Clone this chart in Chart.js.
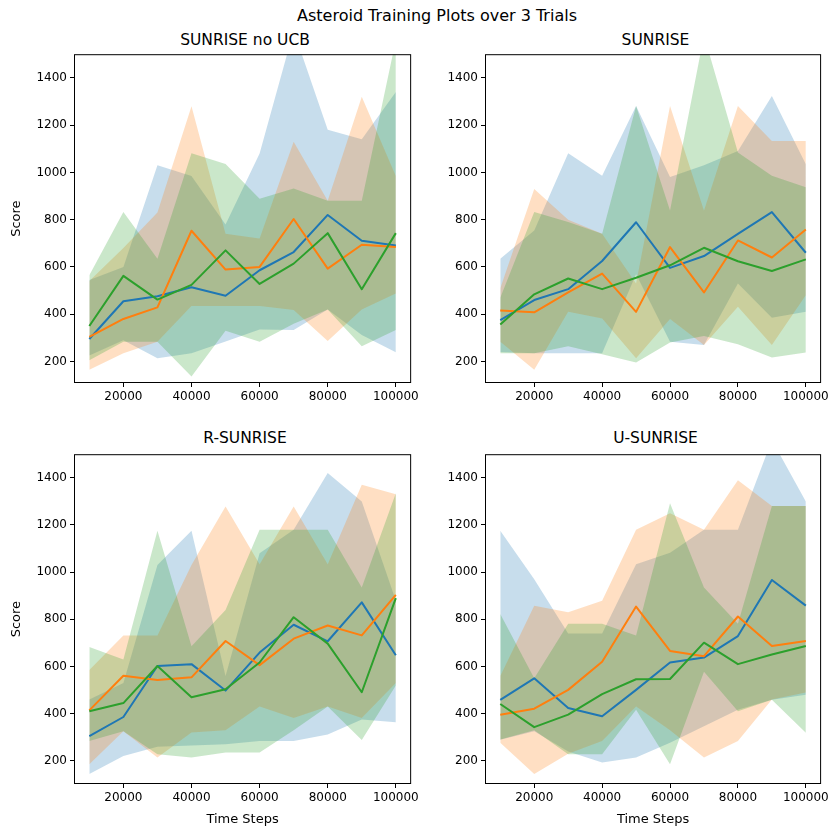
<!DOCTYPE html>
<html>
<head>
<meta charset="utf-8">
<script src="https://cdn.jsdelivr.net/npm/chart.js@4.4.1/dist/chart.umd.min.js"></script>
<style>
  body { margin: 0; background: #fff; width: 835px; height: 828px; overflow: hidden; position: relative; font-family: "DejaVu Sans", sans-serif; }
  canvas { position: absolute; }
  .title { position: absolute; text-align: center; color: #000; white-space: nowrap; height: 20px; line-height: 20px; font-size: 15.5px; }
</style>
</head>
<body>
<div class="title" style="left:37px; width:800px; top:6px; font-size:16px;">Asteroid Training Plots over 3 Trials</div>
<div class="title" style="left:74px; width:342px; top:30px;">SUNRISE no UCB</div>
<div class="title" style="left:485px; width:341px; top:30px;">SUNRISE</div>
<div class="title" style="left:74px; width:342px; top:428px;">R-SUNRISE</div>
<div class="title" style="left:485px; width:341px; top:428px;">U-SUNRISE</div>
<canvas id="c1"></canvas>
<canvas id="c2"></canvas>
<canvas id="c3"></canvas>
<canvas id="c4"></canvas>
<script>
// x values and tick labels
const steps = [10000, 20000, 30000, 40000, 50000, 60000, 70000, 80000, 90000, 100000];
const xTicks = [20000, 40000, 60000, 80000, 100000];
const yTicks = [200, 400, 600, 800, 1000, 1200, 1400];

// SUNRISE no UCB
const noUcbBlue = [295, 455, 476, 514, 478, 586, 663, 820, 711, 691];
const noUcbBlueLo = [225, 290, 214, 235, 285, 335, 333, 420, 312, 239];
const noUcbBlueHi = [545, 600, 1030, 985, 780, 1080, 1600, 1180, 1140, 1340];
const noUcbOrange = [304, 380, 429, 753, 589, 600, 803, 593, 694, 684];
const noUcbOrangeLo = [165, 235, 284, 435, 435, 435, 418, 287, 420, 488];
const noUcbOrangeHi = [540, 680, 830, 1280, 740, 720, 1130, 880, 1320, 985];
const noUcbGreen = [350, 562, 462, 524, 670, 528, 614, 743, 506, 743];
const noUcbGreenLo = [205, 284, 284, 137, 330, 284, 360, 420, 265, 333];
const noUcbGreenHi = [565, 832, 635, 1081, 1035, 888, 932, 880, 880, 1560];

// SUNRISE
const sunBlue = [375, 460, 506, 625, 789, 596, 646, 740, 832, 660];
const sunBlueLo = [240, 235, 235, 235, 569, 284, 270, 530, 385, 410];
const sunBlueHi = [635, 754, 1081, 986, 1281, 980, 1030, 1090, 1323, 1034];
const sunOrange = [416, 408, 492, 572, 410, 684, 492, 712, 640, 758];
const sunOrangeLo = [284, 165, 410, 382, 214, 380, 270, 432, 270, 480];
const sunOrangeHi = [510, 930, 800, 740, 530, 1281, 839, 1281, 1133, 1133];
const sunGreen = [357, 484, 551, 506, 554, 607, 681, 624, 583, 632];
const sunGreenLo = [235, 235, 265, 231, 196, 280, 308, 273, 217, 238];
const sunGreenHi = [470, 832, 790, 740, 1281, 839, 1580, 1084, 986, 937];

// R-SUNRISE
const rBlue = [305, 386, 602, 610, 498, 659, 777, 707, 872, 648];
const rBlueLo = [144, 221, 260, 265, 270, 284, 284, 312, 375, 364];
const rBlueHi = [460, 530, 1030, 1176, 560, 1080, 1180, 1420, 1300, 880];
const rOrange = [414, 561, 543, 554, 708, 606, 718, 774, 732, 904];
const rOrangeLo = [186, 326, 214, 320, 330, 431, 382, 431, 382, 530];
const rOrangeHi = [585, 732, 732, 1030, 1278, 1033, 1278, 1033, 1370, 1330];
const rGreen = [410, 445, 602, 470, 504, 617, 809, 697, 491, 890];
const rGreenLo = [284, 326, 228, 214, 235, 235, 330, 431, 288, 520];
const rGreenHi = [683, 630, 1176, 686, 840, 1180, 1180, 1180, 935, 1334];

// U-SUNRISE
const uBlue = [459, 550, 424, 389, 501, 617, 638, 729, 967, 858];
const uBlueLo = [290, 326, 240, 193, 214, 277, 347, 417, 459, 480];
const uBlueHi = [1176, 970, 740, 740, 1033, 1082, 1180, 1180, 1560, 1300];
const uOrange = [396, 421, 501, 620, 854, 666, 644, 812, 687, 708];
const uOrangeLo = [277, 144, 230, 284, 431, 330, 214, 284, 460, 490];
const uOrangeHi = [560, 858, 830, 879, 1180, 1250, 1180, 1390, 1280, 1280];
const uGreen = [441, 343, 396, 483, 546, 547, 701, 610, 651, 687];
const uGreenLo = [291, 330, 228, 228, 417, 186, 578, 410, 459, 319];
const uGreenHi = [823, 550, 781, 781, 732, 1292, 935, 781, 1280, 1280];

const lineColors = ["#1f77b4", "#ff7f0e", "#2ca02c"];
const fillColors = ["rgba(31,119,180,0.25)", "rgba(255,127,14,0.25)", "rgba(44,160,44,0.25)"];

Chart.defaults.font.family = "DejaVu Sans";
Chart.defaults.font.size = 12;
Chart.defaults.color = "#000";

// matplotlib-style box round the plot area
const framePlugin = {
  id: "frame",
  afterDatasetsDraw(chart) {
    const { ctx, chartArea: a } = chart;
    ctx.save();
    ctx.strokeStyle = "#000";
    ctx.lineWidth = 1;
    ctx.strokeRect(a.left + 0.5, a.top + 0.5, a.right - a.left - 1, a.bottom - a.top - 1);
    ctx.restore();
  }
};

const toPoints = arr => steps.map((x, i) => ({ x: x, y: arr[i] }));

function makePanel(id, box, yMin, showY, showX, series) {
  const canvas = document.getElementById(id);
  const padTop = 8, padRight = 6, yAxisW = 74, xAxisH = 44;
  canvas.width = box.w + yAxisW + padRight;
  canvas.height = box.h + padTop + xAxisH;
  canvas.style.left = (box.left - yAxisW) + "px";
  canvas.style.top = (box.top - padTop) + "px";

  const datasets = [];
  // shaded min/max bands first (lower layers)
  series.forEach((s, k) => {
    datasets.push({
      data: toPoints(s[2]), fill: "+1", backgroundColor: fillColors[k],
      borderWidth: 0, borderColor: "rgba(0,0,0,0)", pointRadius: 0, order: 10 - k
    });
    datasets.push({
      data: toPoints(s[1]), fill: false,
      borderWidth: 0, borderColor: "rgba(0,0,0,0)", pointRadius: 0, order: 10 - k
    });
  });
  // mean lines on top
  series.forEach((s, k) => {
    datasets.push({
      data: toPoints(s[0]), fill: false, borderColor: lineColors[k], borderWidth: 2,
      borderJoinStyle: "round", pointRadius: 0, tension: 0, order: 5 - k
    });
  });

  new Chart(canvas, {
    type: "line",
    data: { datasets: datasets },
    options: {
      responsive: false,
      animation: false,
      layout: { padding: { top: padTop, right: padRight, left: 0, bottom: 0 } },
      plugins: { legend: { display: false }, tooltip: { enabled: false } },
      scales: {
        x: {
          type: "linear", min: 5500, max: 104500,
          afterBuildTicks: s => { s.ticks = xTicks.map(v => ({ value: v })); },
          afterFit: s => { s.height = xAxisH; },
          grid: { drawOnChartArea: false, drawTicks: true, tickLength: 4, tickColor: "#000" },
          border: { display: false },
          ticks: { padding: 3, maxRotation: 0, callback: v => String(v) },
          title: { display: showX, text: "Time Steps", font: { size: 13 }, padding: { top: 0, bottom: 1 } }
        },
        y: {
          type: "linear", min: yMin, max: 1500,
          afterBuildTicks: s => { s.ticks = yTicks.map(v => ({ value: v })); },
          afterFit: s => { s.width = yAxisW; },
          grid: { drawOnChartArea: false, drawTicks: true, tickLength: 4, tickColor: "#000" },
          border: { display: false },
          ticks: { padding: 3, callback: v => String(v) },
          title: { display: showY, text: "Score", font: { size: 13 }, padding: { top: 9, bottom: 0 } }
        }
      }
    },
    plugins: [framePlugin]
  });
}

makePanel("c1", { left: 74, top: 52, w: 342, h: 331 }, 109, true, false, [
  [noUcbBlue, noUcbBlueLo, noUcbBlueHi],
  [noUcbOrange, noUcbOrangeLo, noUcbOrangeHi],
  [noUcbGreen, noUcbGreenLo, noUcbGreenHi]
]);
makePanel("c2", { left: 485, top: 52, w: 341, h: 331 }, 109, false, false, [
  [sunBlue, sunBlueLo, sunBlueHi],
  [sunOrange, sunOrangeLo, sunOrangeHi],
  [sunGreen, sunGreenLo, sunGreenHi]
]);
makePanel("c3", { left: 74, top: 452, w: 342, h: 332 }, 102, true, true, [
  [rBlue, rBlueLo, rBlueHi],
  [rOrange, rOrangeLo, rOrangeHi],
  [rGreen, rGreenLo, rGreenHi]
]);
makePanel("c4", { left: 485, top: 452, w: 341, h: 332 }, 102, false, true, [
  [uBlue, uBlueLo, uBlueHi],
  [uOrange, uOrangeLo, uOrangeHi],
  [uGreen, uGreenLo, uGreenHi]
]);
</script>
</body>
</html>
